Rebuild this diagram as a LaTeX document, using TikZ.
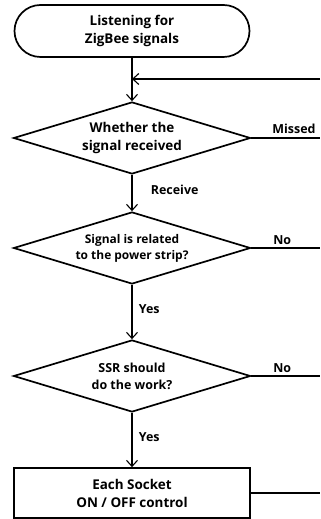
\documentclass[tikz,border=0pt]{standalone}
\usepackage{fontspec}
\setmainfont{Open Sans}
\usetikzlibrary{shapes.geometric,arrows.meta}
\begin{document}
\begin{tikzpicture}[x=1bp,y=1bp,
	terminal/.style={draw,line width=1.7bp,rounded corners=26bp,minimum width=235bp,minimum height=52bp,align=center,font=\bfseries\fontsize{13.5}{18}\selectfont},
	decision/.style={draw,diamond,aspect=3.3,line width=1.7bp,inner sep=0pt,minimum width=237bp,minimum height=72bp,align=center},
	process/.style={draw,line width=1.7bp,minimum width=236bp,minimum height=50bp,align=center,font=\bfseries\fontsize{13.5}{18}\selectfont},
	flow/.style={line width=1.1bp},
	flowarrow/.style={flow,-{Straight Barb[length=6bp,width=11bp,line width=1.1bp]}},
	lbl/.style={font=\bfseries\fontsize{12.5}{15}\selectfont}]
\useasboundingbox (0,0) rectangle (320,519);
% boxes
\node[terminal] (listen) at (132,488) {Listening for\\ZigBee signals};
\node[decision,font=\bfseries\fontsize{13.5}{18}\selectfont] (received) at (132,381) {Whether the\\signal received};
\node[decision,font=\bfseries\fontsize{12}{16}\selectfont] (related) at (132,271) {Signal is related\\to the power strip?};
\node[decision,font=\bfseries\fontsize{12.5}{17}\selectfont] (ssr) at (132,143) {SSR should\\do the work?};
\node[process] (socket) at (132,26) {Each Socket\\ON / OFF control};

% loose ends at the right border
\coordinate (back) at (320,440);
\coordinate (join) at (listen.south |- back);
\coordinate (missed) at (320,381);
\coordinate (norel) at (320,271);
\coordinate (nossr) at (320,143);
\coordinate (done) at (320,26);

% main line
\draw[flowarrow] (listen) -- (received);
\draw[flowarrow] (received) -- (related) node[lbl,pos=0.42,anchor=west,xshift=15bp] (recv) {Receive};
\draw[flowarrow] (related) -- (ssr) node[lbl,pos=0.45,anchor=west,xshift=3bp] (yes1) {Yes};
\draw[flowarrow] (ssr) -- (socket) node[lbl,pos=0.45,anchor=west,xshift=3bp] (yes2) {Yes};

% branches to the right
\draw[flowarrow] (back) -- (join);
\draw[flow] (received.east) -- (missed) node[lbl,pos=0.62,above] (miss) {Missed};
\draw[flow] (related.east) -- (norel) node[lbl,pos=0.45,above] (no1) {No};
\draw[flow] (ssr.east) -- (nossr) node[lbl,pos=0.45,above] (no2) {No};
\draw[flow] (socket.east) -- (done);
\end{tikzpicture}
\end{document}
